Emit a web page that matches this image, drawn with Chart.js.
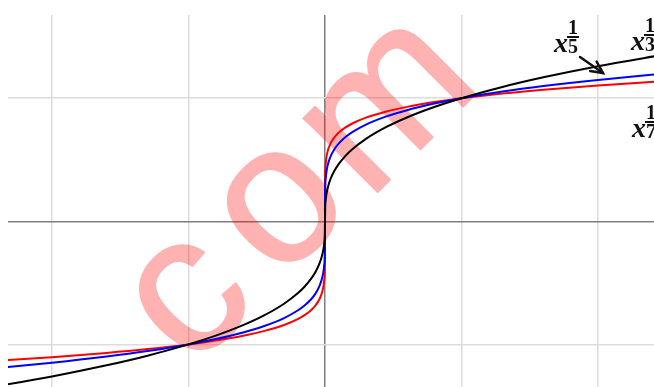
<!DOCTYPE html>
<html>
<head>
<meta charset="utf-8">
<script src="https://cdn.jsdelivr.net/npm/chart.js@4"></script>
<style>
  html, body { margin: 0; padding: 0; background: #fff; overflow: hidden; }
  #wrap { width: 654px; height: 387px; }
</style>
</head>
<body>
<div id="wrap"><canvas id="c" width="654" height="387"></canvas></div>
<script>
// Sample abscissae shared by the three root curves
const xs = [-2.5, -2, -1.6, -1.3, -1, -0.8, -0.6, -0.45, -0.3, -0.2, -0.15, -0.1, -0.07, -0.04, -0.02, -0.01, -0.005, -0.001,
            0,
            0.001, 0.005, 0.01, 0.02, 0.04, 0.07, 0.1, 0.15, 0.2, 0.3, 0.45, 0.6, 0.8, 1, 1.3, 1.6, 2, 2.5];

// y = x^(1/3)
const cubeRoot = [-1.3572, -1.2599, -1.1696, -1.0914, -1, -0.9283, -0.8434, -0.7663, -0.6694, -0.5848, -0.5313, -0.4642, -0.4121, -0.3420, -0.2714, -0.2154, -0.1710, -0.1,
                  0,
                  0.1, 0.1710, 0.2154, 0.2714, 0.3420, 0.4121, 0.4642, 0.5313, 0.5848, 0.6694, 0.7663, 0.8434, 0.9283, 1, 1.0914, 1.1696, 1.2599, 1.3572];

// y = x^(1/5)
const fifthRoot = [-1.2011, -1.1487, -1.0986, -1.0539, -1, -0.9564, -0.9029, -0.8524, -0.7860, -0.7248, -0.6843, -0.6310, -0.5875, -0.5253, -0.4573, -0.3981, -0.3466, -0.2512,
                   0,
                   0.2512, 0.3466, 0.3981, 0.4573, 0.5253, 0.5875, 0.6310, 0.6843, 0.7248, 0.7860, 0.8524, 0.9029, 0.9564, 1, 1.0539, 1.0986, 1.1487, 1.2011];

// y = x^(1/7)
const seventhRoot = [-1.1399, -1.1041, -1.0695, -1.0382, -1, -0.9686, -0.9296, -0.8922, -0.8420, -0.7946, -0.7626, -0.7197, -0.6839, -0.6314, -0.5719, -0.5179, -0.4691, -0.3728,
                     0,
                     0.3728, 0.4691, 0.5179, 0.5719, 0.6314, 0.6839, 0.7197, 0.7626, 0.7946, 0.8420, 0.8922, 0.9296, 0.9686, 1, 1.0382, 1.0695, 1.1041, 1.1399];

const toPoints = ys => xs.map((x, i) => ({ x: x, y: ys[i] }));

// Big faint watermark letters along a 45° diagonal; drawn solid on a
// scratch canvas, then laid over the grid with a single alpha pass.
const watermark = {
  id: 'watermark',
  beforeDatasetsDraw(chart) {
    const ctx = chart.ctx;
    const size = 198;
    const letters = [
      { ch: 'c', x: 190, y: 300 },
      { ch: 'o', x: 282, y: 208 },
      { ch: 'm', x: 390, y: 107 }
    ];
    const off = document.createElement('canvas');
    off.width = chart.width;
    off.height = chart.height;
    const o = off.getContext('2d');
    o.fillStyle = '#ff0000';
    o.strokeStyle = '#ff0000';
    o.lineWidth = 2;
    o.lineJoin = 'round';
    o.font = `${size}px "Liberation Sans", Arial, sans-serif`;
    o.textAlign = 'center';
    o.textBaseline = 'alphabetic';
    letters.forEach(l => {
      o.save();
      o.translate(l.x, l.y);
      o.rotate(-Math.PI / 4);
      o.fillText(l.ch, 0, size * 0.26);
      o.strokeText(l.ch, 0, size * 0.26);
      o.restore();
    });
    ctx.save();
    ctx.globalAlpha = 0.3;
    ctx.drawImage(off, 0, 0);
    ctx.restore();
  }
};

// Curve labels written as x with a fractional exponent, plus a pointer arrow
const curveLabels = {
  id: 'curveLabels',
  afterDraw(chart) {
    const ctx = chart.ctx;
    ctx.save();
    ctx.fillStyle = '#111';
    ctx.strokeStyle = '#111';
    const drawPower = (left, base, den) => {
      ctx.font = 'italic bold 28px "Liberation Serif", "DejaVu Serif", serif';
      ctx.textAlign = 'left';
      ctx.textBaseline = 'alphabetic';
      ctx.fillText('x', left, base);
      const w = ctx.measureText('x').width;
      const cx = left + w + 5;
      ctx.font = 'bold 20px "Liberation Serif", "DejaVu Serif", serif';
      ctx.textAlign = 'center';
      ctx.fillText('1', cx, base - 18);
      ctx.fillText(den, cx, base + 1);
      ctx.lineWidth = 2;
      ctx.beginPath();
      ctx.moveTo(cx - 6, base - 15);
      ctx.lineTo(cx + 6, base - 15);
      ctx.stroke();
    };
    drawPower(554, 52, '5');
    drawPower(631, 50, '3');
    drawPower(632, 137, '7');

    // arrow from the x^(1/5) label down to its curve
    const x0 = 580, y0 = 57, x1 = 603, y1 = 73;
    ctx.lineWidth = 2.5;
    ctx.lineCap = 'round';
    ctx.beginPath();
    ctx.moveTo(x0, y0);
    ctx.lineTo(x1, y1);
    ctx.stroke();
    const ang = Math.atan2(y1 - y0, x1 - x0);
    const head = 13;
    ctx.beginPath();
    ctx.moveTo(x1 - head * Math.cos(ang - 0.45), y1 - head * Math.sin(ang - 0.45));
    ctx.lineTo(x1, y1);
    ctx.lineTo(x1 - head * Math.cos(ang + 0.45), y1 - head * Math.sin(ang + 0.45));
    ctx.stroke();
    ctx.restore();
  }
};

const gridColor = c => (c.tick && c.tick.value === 0) ? '#7f7f7f' : '#dcdcdc';

new Chart(document.getElementById('c'), {
  type: 'line',
  data: {
    datasets: [
      { label: 'x^(1/3)', data: toPoints(cubeRoot), borderColor: '#000000', borderWidth: 2, pointRadius: 0, cubicInterpolationMode: 'monotone', fill: false },
      { label: 'x^(1/5)', data: toPoints(fifthRoot), borderColor: '#0000ff', borderWidth: 2, pointRadius: 0, cubicInterpolationMode: 'monotone', fill: false },
      { label: 'x^(1/7)', data: toPoints(seventhRoot), borderColor: '#ff0000', borderWidth: 2, pointRadius: 0, cubicInterpolationMode: 'monotone', fill: false }
    ]
  },
  options: {
    responsive: false,
    animation: false,
    events: [],
    layout: { padding: { left: 8, top: 15, right: 0, bottom: 0 } },
    plugins: { legend: { display: false }, tooltip: { enabled: false } },
    scales: {
      x: {
        type: 'linear',
        min: -2.3223,
        max: 2.4103,
        border: { display: false },
        grid: { color: gridColor, lineWidth: 1.5, drawTicks: false },
        ticks: { display: false, stepSize: 1, includeBounds: false }
      },
      y: {
        type: 'linear',
        min: -1.346,
        max: 1.676,
        border: { display: false },
        grid: { color: gridColor, lineWidth: 1.5, drawTicks: false },
        ticks: { display: false, stepSize: 1, includeBounds: false }
      }
    }
  },
  plugins: [watermark, curveLabels]
});
</script>
</body>
</html>
